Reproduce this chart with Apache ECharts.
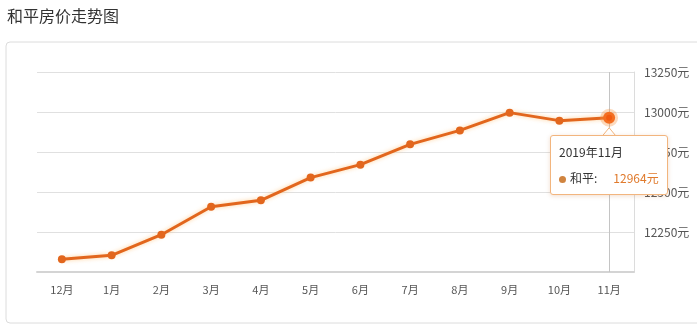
<!DOCTYPE html>
<html>
<head>
<meta charset="utf-8">
<script src="https://cdn.jsdelivr.net/npm/echarts@6/dist/echarts.min.js"></script>
<style>
html,body{margin:0;padding:0;background:#fff;}
#c{width:697px;height:327px;}
</style>
</head>
<body>
<div id="c"></div>
<script>
const categories = ['12月','1月','2月','3月','4月','5月','6月','7月','8月','9月','10月','11月'];
const prices = [12079, 12104, 12233, 12408, 12448, 12590, 12671, 12798, 12885, 12996, 12946, 12964];
const seriesName = '和平';
const tooltipLabel = '2019年11月';
const yMin = 12000, yMax = 13250, yStep = 250;

const FONT = '"Noto Sans CJK SC", "Noto Sans", sans-serif';
const lastIdx = prices.length - 1;
const seriesData = prices.map((v, i) => i === lastIdx ? {
  value: v,
  symbolSize: 12,
  itemStyle: { color: '#f25b10', borderColor: 'rgba(245,150,70,0.35)', borderWidth: 6 }
} : v);

const TIP_GAP = 17;
let anchor = null;

const chart = echarts.init(document.getElementById('c'), null, { renderer: 'canvas' });
chart.setOption({
  animation: false,
  backgroundColor: '#fff',
  textStyle: { fontFamily: FONT },
  title: {
    text: '和平房价走势图',
    left: 2, top: 3,
    textStyle: { fontSize: 16, fontWeight: 'normal', color: '#333', fontFamily: FONT }
  },
  graphic: [{
    type: 'rect', z: -10, silent: true,
    shape: { x: 6, y: 42, width: 700, height: 281, r: 4 },
    style: { fill: '#fff', stroke: '#dcdcdc', lineWidth: 1 }
  }],
  grid: { left: 37, right: 63, top: 72, bottom: 55 },
  tooltip: {
    trigger: 'item',
    alwaysShowContent: true,
    backgroundColor: '#fff',
    borderColor: '#f2b57e',
    borderWidth: 1,
    padding: [6, 8],
    extraCssText: 'box-shadow:0 1px 4px rgba(200,120,60,0.25);border-radius:3px;',
    position: function (point, params, dom, rect, size) {
      const a = anchor || point;
      return [Math.round(a[0] - size.contentSize[0] / 2), Math.round(a[1] + TIP_GAP)];
    },
    formatter: function (p) {
      return '<div style="font-family:' + FONT.replace(/"/g, "'") + ';font-size:12px;">' +
        '<div style="color:#333;line-height:20px;">' + tooltipLabel + '</div>' +
        '<div style="line-height:20px;margin-top:6px;white-space:nowrap;">' +
        '<span style="display:inline-block;width:7px;height:7px;border-radius:50%;background:#d0843f;margin-right:4px;vertical-align:middle;"></span>' +
        '<span style="color:#333;">' + p.seriesName + ':</span>' +
        '<span style="color:#e07a2c;margin-left:16px;">' + p.value + '元</span>' +
        '</div></div>';
    }
  },
  xAxis: {
    type: 'category',
    data: categories,
    boundaryGap: true,
    axisLine: { lineStyle: { color: '#d4d4d4', width: 2 } },
    axisTick: { alignWithLabel: true, length: 4, lineStyle: { color: '#d4d4d4' } },
    axisLabel: { color: '#555', fontSize: 11, margin: 12, fontFamily: FONT },
    splitLine: { show: false }
  },
  yAxis: {
    type: 'value',
    position: 'right',
    min: yMin, max: yMax, interval: yStep,
    axisLine: { show: true, lineStyle: { color: '#dcdcdc', width: 1 } },
    axisTick: { show: false },
    axisLabel: {
      color: '#555', fontSize: 12, margin: 10, fontFamily: FONT,
      showMinLabel: false,
      formatter: function (v) { return v + '元'; }
    },
    splitLine: { lineStyle: { color: '#e0e0e0', width: 1 } }
  },
  series: [{
    name: seriesName,
    type: 'line',
    data: seriesData,
    symbol: 'circle',
    symbolSize: 8,
    showAllSymbol: true,
    itemStyle: { color: '#e2661d' },
    lineStyle: { color: '#e2661d', width: 3, shadowColor: 'rgba(255,190,110,0.7)', shadowBlur: 4 },
    markLine: {
      silent: true,
      symbol: 'none',
      label: { show: false },
      lineStyle: { color: '#c4c4c4', type: 'solid', width: 1 },
      data: [{ xAxis: categories[lastIdx] }],
      z: 1
    }
  }]
});

anchor = chart.convertToPixel({ seriesIndex: 0 }, [lastIdx, prices[lastIdx]]);
const ax = anchor[0], ay = anchor[1];
chart.setOption({
  graphic: [{
    type: 'rect', z: -10, silent: true,
    shape: { x: 6, y: 42, width: 700, height: 281, r: 4 },
    style: { fill: '#fff', stroke: '#dcdcdc', lineWidth: 1 }
  }, {
    type: 'polygon', z: 100, silent: true,
    shape: { points: [[ax - 7, ay + TIP_GAP + 1.5], [ax, ay + TIP_GAP - 7], [ax + 7, ay + TIP_GAP + 1.5]] },
    style: { fill: '#fff', stroke: '#f2b57e', lineWidth: 1 }
  }]
});
chart.dispatchAction({ type: 'showTip', seriesIndex: 0, dataIndex: lastIdx });
</script>
</body>
</html>
